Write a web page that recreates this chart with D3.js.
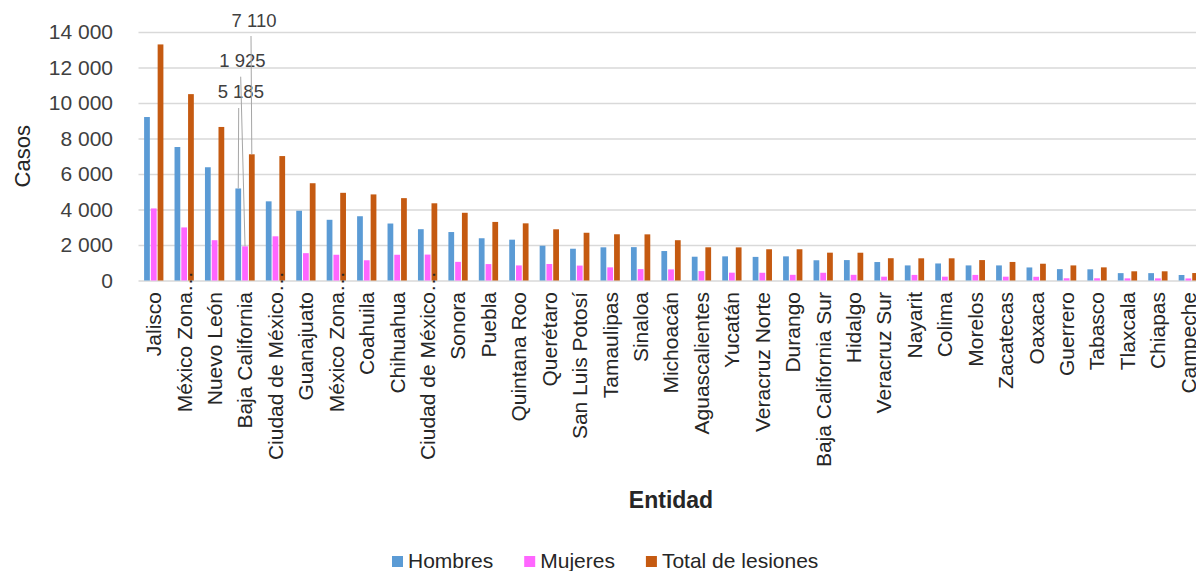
<!DOCTYPE html>
<html><head><meta charset="utf-8">
<script src="https://cdn.jsdelivr.net/npm/d3@7"></script>
<style>
body{margin:0;background:#fff;}
svg{display:block;font-family:"Liberation Sans",Arial,sans-serif;}
</style>
</head><body>
<svg id="c" width="1196" height="571"></svg>
<script>
const categories = ["Jalisco","México Zona…","Nuevo León","Baja California","Ciudad de México…","Guanajuato","México Zona…","Coahuila","Chihuahua","Ciudad de México…","Sonora","Puebla","Quintana Roo","Querétaro","San Luis Potosí","Tamaulipas","Sinaloa","Michoacán","Aguascalientes","Yucatán","Veracruz Norte","Durango","Baja California Sur","Hidalgo","Veracruz Sur","Nayarit","Colima","Morelos","Zacatecas","Oaxaca","Guerrero","Tabasco","Tlaxcala","Chiapas","Campeche"];
const hombres = [9210,7520,6380,5185,4460,3930,3420,3620,3210,2890,2730,2380,2300,1960,1790,1870,1880,1660,1340,1360,1330,1360,1140,1150,1040,850,960,850,850,735,640,630,415,415,310];
const mujeres = [4060,2990,2270,1925,2490,1540,1450,1140,1450,1460,1050,925,850,930,840,740,640,625,530,440,435,320,435,320,215,315,215,315,215,210,125,125,120,120,115];
const total = [13300,10500,8650,7110,7010,5480,4940,4850,4640,4350,3815,3300,3220,2885,2690,2605,2600,2270,1870,1865,1760,1760,1568,1565,1255,1250,1250,1150,1045,945,850,740,518,518,420];
const seriesNames = ["Hombres","Mujeres","Total de lesiones"];
const seriesColors = ["#5b9bd5","#ff66ff","#c55a11"];
const yTicks = [0,2000,4000,6000,8000,10000,12000,14000];
const annotatedCategory = 3;
const yTitle = "Casos";
const xTitle = "Entidad";

(function () {
const series = [hombres, mujeres, total];
const svg = d3.select("#c");
const W = 1196;
const pLeft = 138.5, pRight = 1203.5, pBottom = 280.5, pTop = 32;

const x0 = d3.scaleBand().domain(d3.range(categories.length)).range([pLeft, pRight]).padding(0);
const x1 = d3.scaleBand().domain(d3.range(series.length)).range([5.6, 24.9]).paddingInner(0.15);
const y = d3.scaleLinear().domain([0, 14000]).range([pBottom, pTop]);
const loc = d3.formatLocale({decimal: ",", thousands: " ", grouping: [3], currency: ["$", ""]});
const fmt = loc.format(",d");

// y grid + labels
const gy = svg.append("g").attr("transform", `translate(${pLeft},0)`)
  .call(d3.axisLeft(y).tickValues(yTicks).tickSize(-(W - pLeft)).tickPadding(25.5).tickFormat(fmt));
gy.select(".domain").remove();
gy.selectAll(".tick line").attr("stroke", "#d9d9d9").attr("stroke-width", 1.5);
gy.selectAll(".tick text").attr("fill", "#404040").style("font-size", "21px").style("font-family", "Liberation Sans, Arial, sans-serif");

// bars
const groups = svg.append("g").selectAll("g").data(categories).join("g")
  .attr("transform", (d, i) => `translate(${x0(i)},0)`);
groups.selectAll("rect").data((d, i) => series.map((s, k) => ({k, v: s[i]}))).join("rect")
  .attr("x", d => x1(d.k))
  .attr("width", x1.bandwidth())
  .attr("y", d => y(d.v))
  .attr("height", d => y(0) - y(d.v))
  .attr("fill", d => seriesColors[d.k]);

// x axis labels
const gx = svg.append("g").attr("transform", `translate(0,${pBottom})`)
  .call(d3.axisBottom(x0).tickSize(0).tickFormat(i => categories[i]));
gx.select(".domain").remove();
gx.selectAll(".tick text")
  .attr("transform", "rotate(-90)")
  .attr("text-anchor", "end")
  .attr("x", i => categories[i].endsWith("…") ? 9.5 : -11.5)
  .attr("y", 0)
  .attr("dy", "0.35em")
  .attr("fill", "#262626")
  .style("font-size", "21px")
  .style("font-family", "Liberation Sans, Arial, sans-serif");

// data labels on annotated category
const ann = [
  {k: 0, lx: 240.8, ly: 97.7, tx: 238.7, ty: 108},
  {k: 1, lx: 242.5, ly: 66.7, tx: 240.7, ty: 76.7},
  {k: 2, lx: 254, ly: 26.7, tx: 251, ty: 36}
];
const ci = annotatedCategory;
ann.forEach(a => {
  const bx = x0(ci) + x1(a.k) + x1.bandwidth() / 2;
  const v = series[a.k][ci];
  svg.append("line").attr("x1", a.tx).attr("y1", a.ty).attr("x2", bx).attr("y2", y(v))
    .attr("stroke", "#a6a6a6").attr("stroke-width", 1);
  svg.append("text").attr("x", a.lx).attr("y", a.ly).attr("text-anchor", "middle")
    .attr("fill", "#404040").style("font-size", "18.5px").text(fmt(v));
});

// axis titles
svg.append("text").attr("transform", `translate(30,${(pTop + pBottom) / 2}) rotate(-90)`)
  .attr("text-anchor", "middle").attr("fill", "#262626").style("font-size", "22px").text(yTitle);
svg.append("text").attr("x", (pLeft + pRight) / 2).attr("y", 508).attr("text-anchor", "middle")
  .attr("fill", "#262626").style("font-size", "23px").style("font-weight", "bold").text(xTitle);

// legend
const lg = svg.append("g").attr("transform", "translate(392,568)");
let lx = 0;
seriesNames.forEach((n, k) => {
  lg.append("rect").attr("x", lx).attr("y", -12).attr("width", 11).attr("height", 11).attr("fill", seriesColors[k]);
  const t = lg.append("text").attr("x", lx + 16).attr("y", 0).attr("fill", "#262626").style("font-size", "21px").text(n);
  lx += 16 + t.node().getComputedTextLength() + 31;
});
})();
</script>
</body></html>
